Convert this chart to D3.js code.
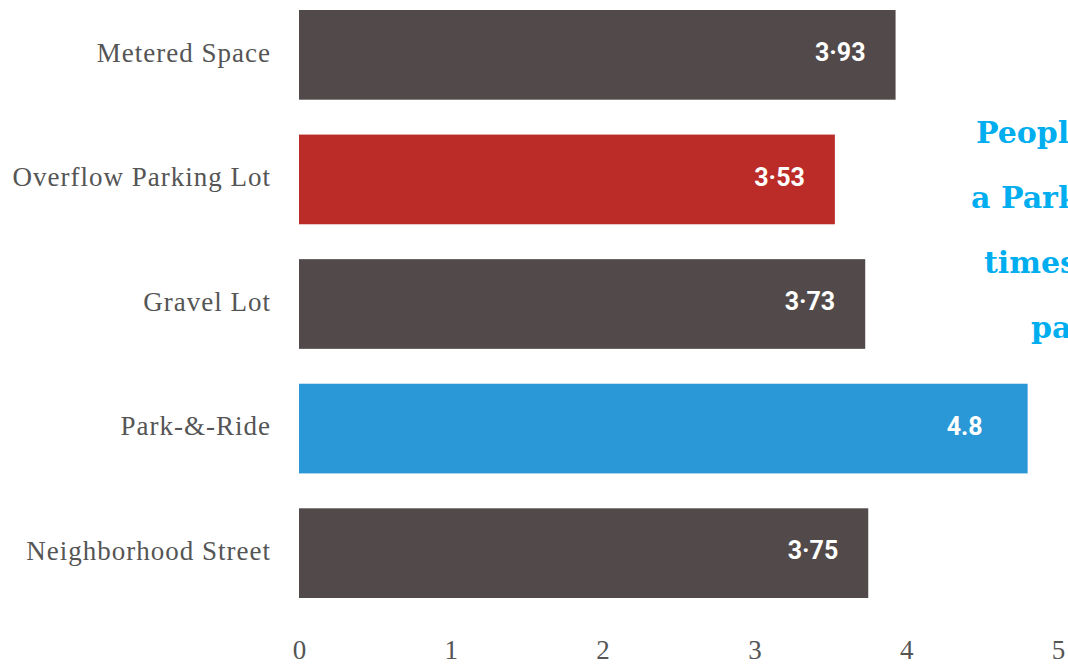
<!DOCTYPE html>
<html><head><meta charset="utf-8">
<script src="https://cdn.jsdelivr.net/npm/d3@7"></script>
<style>
html,body{margin:0;padding:0;background:#fff;overflow:hidden;}
</style></head>
<body>
<svg id="chart" width="1068" height="665"></svg>
<script>
const categories = ["Metered Space","Overflow Parking Lot","Gravel Lot","Park-&-Ride","Neighborhood Street"];
const values = [3.93, 3.53, 3.73, 4.8, 3.75];
const valueLabels = ["3·93","3·53","3·73","4.8","3·75"];
const barColors = ["#524a4a","#bb2b27","#524a4a","#2a98d6","#524a4a"];
const tickValues = [0,1,2,3,4,5];
const noteLines = ["People who use","a Park-&-Ride are","times more likely","pay for parking"];
const noteX = [976, 971, 984, 1031];

const svg = d3.select("#chart");
const x = d3.scaleLinear().domain([0,5]).range([299,1058]);
const y = d3.scaleBand().domain(categories).range([10,598]).paddingInner(0.28).paddingOuter(0);

const serif = "'Liberation Serif', 'DejaVu Serif', serif";

svg.selectAll("rect.bar").data(categories).join("rect")
  .attr("class","bar")
  .attr("x", x(0))
  .attr("y", d=>y(d))
  .attr("width", (d,i)=>x(values[i])-x(0))
  .attr("height", y.bandwidth())
  .attr("fill", (d,i)=>barColors[i]);

svg.selectAll("text.val").data(categories).join("text")
  .attr("class","val")
  .attr("x", (d,i)=>x(values[i]) - (i===3?45:30))
  .attr("y", d=>y(d)+y.bandwidth()/2)
  .attr("dy","0.25em")
  .attr("text-anchor","end")
  .attr("fill","#fff")
  .attr("font-family","Roboto, 'Open Sans', sans-serif")
  .attr("font-weight","bold")
  .attr("font-size", 25)
  .text((d,i)=>valueLabels[i]);

svg.selectAll("text.cat").data(categories).join("text")
  .attr("class","cat")
  .attr("x", 271)
  .attr("y", d=>y(d)+y.bandwidth()/2)
  .attr("dy","0.25em")
  .attr("text-anchor","end")
  .attr("fill","#555")
  .attr("font-family", serif)
  .attr("font-size", 27)
  .attr("letter-spacing", 1)
  .text(d=>d);

const axis = d3.axisBottom(x).tickValues(tickValues).tickFormat(d3.format("d")).tickSize(0).tickPadding(0);
const g = svg.append("g").attr("transform","translate(0,640)").call(axis);
g.select(".domain").remove();
g.selectAll("text")
  .attr("fill","#555")
  .attr("font-family", serif)
  .attr("font-size", 27)
  .attr("dy","0.71em");

svg.selectAll("text.note").data(noteLines).join("text")
  .attr("class","note")
  .attr("x", (d,i)=>noteX[i])
  .attr("y", (d,i)=>143 + i*65)
  .attr("fill","#00aeef")
  .attr("font-family","'DejaVu Serif', serif")
  .attr("font-weight","bold")
  .attr("font-size", 30)
  .text(d=>d);
</script>
</body></html>
